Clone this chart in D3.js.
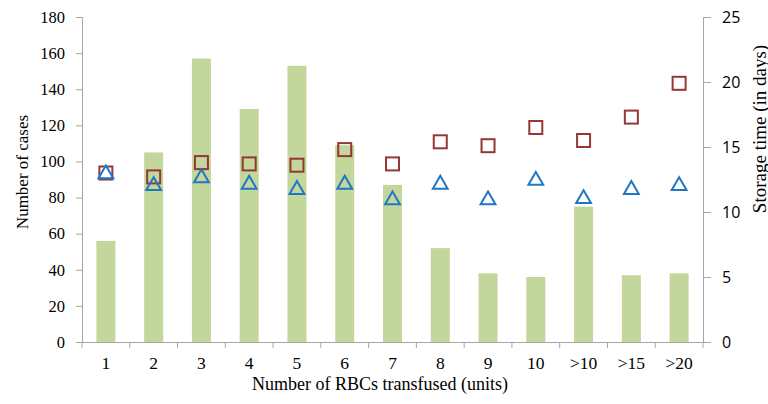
<!DOCTYPE html>
<html><head><meta charset="utf-8">
<script src="https://cdn.jsdelivr.net/npm/d3@7"></script>
<style>body{margin:0;background:#fff}svg{display:block}</style>
</head><body>
<svg id="c" width="768" height="404"></svg>
<script>
const categories = ["1","2","3","4","5","6","7","8","9","10",">10",">15",">20"];
const cases = [56,105,157,129,153,109,87,52,38,36,75,37,38];
const storageSquare = [13.0,12.7,13.8,13.7,13.6,14.8,13.7,15.4,15.1,16.5,15.5,17.3,19.9];
const storageTriangle = [13.0,12.1,12.7,12.2,11.8,12.2,11.0,12.2,11.0,12.5,11.1,11.8,12.1];
const leftTicks = [0,20,40,60,80,100,120,140,160,180];
const rightTicks = [0,5,10,15,20,25];

const svg = d3.select("#c");
const L = 82, R = 703, T = 17, B = 342;
const xb = d3.scaleBand().domain(categories).range([L, R]);
const yL = d3.scaleLinear().domain([0,180]).range([B, T]);
const yR = d3.scaleLinear().domain([0,25]).range([B, T]);
const axisCol = "#a6a6a6";

// bars
svg.selectAll("rect.bar").data(cases).enter().append("rect")
  .attr("x", (d,i)=> xb(categories[i]) + xb.bandwidth()/2 - 9.5)
  .attr("width", 19)
  .attr("y", d=>yL(d)).attr("height", d=>B-yL(d))
  .attr("fill", "#c3d69b");

// axes
const gL = svg.append("g").attr("transform", `translate(${L},0)`)
  .call(d3.axisLeft(yL).tickValues(leftTicks).tickSize(6).tickPadding(11));
gL.selectAll("text").attr("font-family","Liberation Serif").attr("font-size",16.5).attr("fill","#000");
const gR = svg.append("g").attr("transform", `translate(${R},0)`)
  .call(d3.axisRight(yR).tickValues(rightTicks).tickSize(8).tickPadding(11));
gR.selectAll("text").attr("font-family","Open Sans").attr("font-size",16).attr("fill","#000");
const gX = svg.append("g").attr("transform", `translate(0,${B})`)
  .call(d3.axisBottom(xb).tickSize(0).tickPadding(15));
gX.selectAll("text").attr("font-family","Liberation Serif").attr("font-size",17.5).attr("fill","#000");
// boundary ticks
const bounds = categories.map(c=>xb(c)).concat([R]);
gX.selectAll("line.bt").data(bounds).enter().append("line")
  .attr("x1",d=>d).attr("x2",d=>d).attr("y1",0).attr("y2",6).attr("stroke",axisCol);
[gL,gR,gX].forEach(g=>{g.selectAll("path.domain").attr("stroke",axisCol);g.selectAll(".tick line").attr("stroke",axisCol);});
gX.select("path.domain").attr("d", `M${L-6},0.5H${R+8}`);

// squares
const sq = 13;
svg.selectAll("rect.sq").data(storageSquare).enter().append("rect")
  .attr("x",(d,i)=>xb(categories[i])+xb.bandwidth()/2 - sq/2)
  .attr("y",d=>yR(d)-sq/2).attr("width",sq).attr("height",sq)
  .attr("fill","none").attr("stroke","#953735").attr("stroke-width",2);

// triangles
const tri = d3.symbol().type(d3.symbolTriangle).size(95);
svg.selectAll("path.tri").data(storageTriangle).enter().append("path")
  .attr("d", tri)
  .attr("transform",(d,i)=>`translate(${xb(categories[i])+xb.bandwidth()/2},${yR(d)+1})`)
  .attr("fill","none").attr("stroke","#1f77c4").attr("stroke-width",2);

// titles
svg.append("text").attr("transform","translate(22,172) rotate(-90)").attr("text-anchor","middle")
  .attr("dominant-baseline","central")
  .attr("font-family","Liberation Serif").attr("font-size",17).text("Number of cases");
svg.append("text").attr("transform","translate(759,129) rotate(-90)").attr("text-anchor","middle")
  .attr("dominant-baseline","central")
  .attr("font-family","Liberation Serif").attr("font-size",19).text("Storage time (in days)");
svg.append("text").attr("x",380).attr("y",390).attr("text-anchor","middle")
  .attr("font-family","Liberation Serif").attr("font-size",18).text("Number of RBCs transfused (units)");
</script>
</body></html>
